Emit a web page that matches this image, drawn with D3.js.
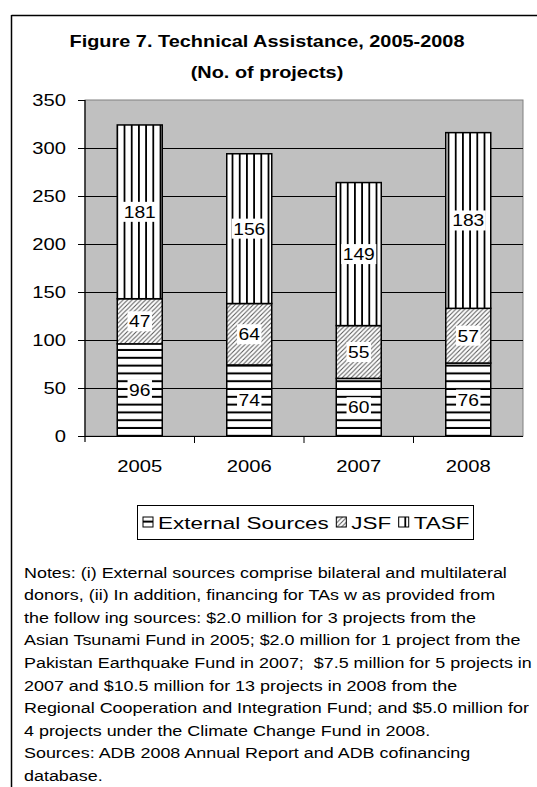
<!DOCTYPE html>
<html><head><meta charset="utf-8">
<script src="https://cdn.jsdelivr.net/npm/d3@7"></script>
<style>body{margin:0;background:#fff;}svg{display:block;font-family:Arial,"Liberation Sans",sans-serif;}</style>
</head><body>
<script>
const years = ["2005","2006","2007","2008"];
const seriesNames = ["External Sources","JSF","TASF"];
const externalSources = [96,74,60,76];
const jsf = [47,64,55,57];
const tasf = [181,156,149,183];
const yTicks = [0,50,100,150,200,250,300,350];
const titleLines = ["Figure 7. Technical Assistance, 2005-2008","(No. of projects)"];
const noteLines = [
 "Notes: (i) External sources comprise bilateral and multilateral",
 "donors, (ii) In addition, financing for TAs w as provided from",
 "the follow ing sources: $2.0 million for 3 projects from the",
 "Asian Tsunami Fund in 2005; $2.0 million for 1 project from the",
 "Pakistan Earthquake Fund in 2007;  $7.5 million for 5 projects in",
 "2007 and $10.5 million for 13 projects in 2008 from the",
 "Regional Cooperation and Integration Fund; and $5.0 million for",
 "4 projects under the Climate Change Fund in 2008.",
 "Sources: ADB 2008 Annual Report and ADB cofinancing",
 "database."
];

const W=537,H=787;
const svg=d3.select("body").append("svg").attr("width",W).attr("height",H);
const defs=svg.append("defs");

function addText(g,x,y,txt,size,sx,anchor,weight){
  return g.append("text").attr("transform",`translate(${x},${y}) scale(${sx},1)`)
    .attr("text-anchor",anchor||"start").attr("font-size",size)
    .attr("font-weight",weight||"normal").style("white-space","pre").text(txt);
}

// patterns
const pH=defs.append("pattern").attr("id","pH").attr("patternUnits","userSpaceOnUse").attr("width",8).attr("height",7.8);
pH.append("rect").attr("width",8).attr("height",7.8).attr("fill","#fff");
pH.append("rect").attr("y",5.8).attr("width",8).attr("height",2).attr("fill","#000");
const pV=defs.append("pattern").attr("id","pV").attr("patternUnits","userSpaceOnUse").attr("width",7.2).attr("height",8).attr("x",1.2);
pV.append("rect").attr("width",7.2).attr("height",8).attr("fill","#fff");
pV.append("rect").attr("x",0).attr("width",1.8).attr("height",8).attr("fill","#000");
const pD=defs.append("pattern").attr("id","pD").attr("patternUnits","userSpaceOnUse").attr("width",4.5).attr("height",4.5);
pD.append("rect").attr("width",4.5).attr("height",4.5).attr("fill","#fff");
pD.append("path").attr("d","M-1,1 L1,-1 M0,4.5 L4.5,0 M3.5,5.5 L5.5,3.5").attr("stroke","#555").attr("stroke-width",1);
const fills=["url(#pH)","url(#pD)","url(#pV)"];

// outer frame
svg.append("line").attr("x1",11.5).attr("x2",W).attr("y1",15.5).attr("y2",15.5).attr("stroke","#000").attr("stroke-width",1.5);
svg.append("line").attr("x1",11.5).attr("x2",11.5).attr("y1",15).attr("y2",H).attr("stroke","#000").attr("stroke-width",1.5);

// title
const tg=svg.append("g");
titleLines.forEach((t,i)=>addText(tg,267,47+i*31,t,15.8,1.26,"middle","bold"));

const x0=85,x1=523,yTop=100,yBot=436;
const x=d3.scaleBand().domain(years).range([x0,x1]).paddingInner(0).paddingOuter(0);
const y=d3.scaleLinear().domain([0,350]).range([yBot,yTop]);

svg.append("rect").attr("x",x0).attr("y",yTop).attr("width",x1-x0).attr("height",yBot-yTop)
 .attr("fill","#c0c0c0").attr("stroke","#808080").attr("stroke-width",1);

// gridlines
svg.append("g").selectAll("line").data(yTicks.filter(t=>t>0&&t<350)).join("line")
 .attr("x1",x0).attr("x2",x1).attr("y1",d=>Math.round(y(d))+0.5).attr("y2",d=>Math.round(y(d))+0.5)
 .attr("stroke","#000").attr("stroke-width",1);

// y axis
const tickSx=1.28;
const yAx=svg.append("g").attr("transform",`translate(${x0},0)`)
 .call(d3.axisLeft(y).tickValues(yTicks).tickSize(7).tickPadding(11));
yAx.select(".domain").remove();
yAx.selectAll("text").attr("font-size",15.8).attr("fill","#000").attr("font-family","Arial,'Liberation Sans',sans-serif")
 .attr("x",null).attr("transform",`translate(-19,0) scale(${tickSx},1)`);
yAx.selectAll("line").attr("stroke","#000");
svg.append("line").attr("x1",x0).attr("x2",x0).attr("y1",yTop).attr("y2",yBot+6).attr("stroke","#000").attr("stroke-width",1.2);

// x axis
svg.append("line").attr("x1",x0).attr("x2",x1).attr("y1",yBot+0.5).attr("y2",yBot+0.5).attr("stroke","#000").attr("stroke-width",1);
svg.append("g").selectAll("line").data(years.slice(1)).join("line")
 .attr("x1",d=>x(d)).attr("x2",d=>x(d)).attr("y1",yBot).attr("y2",yBot+7).attr("stroke","#000");
const xg=svg.append("g");
years.forEach(yr=>addText(xg,x(yr)+x.bandwidth()/2,472,yr,15.8,tickSx,"middle"));

// stacked bars
const rows=years.map((yr,i)=>({year:yr,"External Sources":externalSources[i],"JSF":jsf[i],"TASF":tasf[i]}));
const stack=d3.stack().keys(seriesNames)(rows);
const bw=45;
const bars=svg.append("g");
stack.forEach((s,si)=>{
  bars.selectAll(null).data(s).join("rect")
   .attr("x",d=>x(d.data.year)+x.bandwidth()/2-bw/2)
   .attr("y",d=>y(d[1])).attr("width",bw).attr("height",d=>y(d[0])-y(d[1]))
   .attr("fill",fills[si]).attr("stroke","#000").attr("stroke-width",1.5);
});
// labels
stack.forEach((s,si)=>{
  const g=svg.append("g");
  s.forEach(d=>{
    const v=d[1]-d[0];
    const cx=x(d.data.year)+x.bandwidth()/2, cy=y((d[0]+d[1])/2);
    const r=g.append("rect").attr("fill","#fff");
    const t=addText(g,cx,cy+6,String(v),15.8,1.22,"middle");
    const tw=t.node().getComputedTextLength()*1.22;
    r.attr("x",cx-tw/2-1.5).attr("y",cy-10).attr("width",tw+3).attr("height",20);
  });
});

// legend
svg.append("rect").attr("x",137.5).attr("y",505.5).attr("width",336).attr("height",34).attr("fill","#fff").attr("stroke","#000").attr("stroke-width",1);
const legG=svg.append("g");
let lx=143;
seriesNames.forEach((n,i)=>{
  legG.append("rect").attr("x",lx).attr("y",517).attr("width",10).attr("height",10).attr("fill",fills[i]).attr("stroke","#000").attr("stroke-width",1);
  const t=addText(legG,lx+15,528.5,n,16.5,1.36);
  lx+=15+t.node().getComputedTextLength()*1.36+7.5;
});

// notes
const ng=svg.append("g");
noteLines.forEach((t,i)=>addText(ng,24,577.5+i*22.6,t,15,1.195));
</script>
</body></html>
